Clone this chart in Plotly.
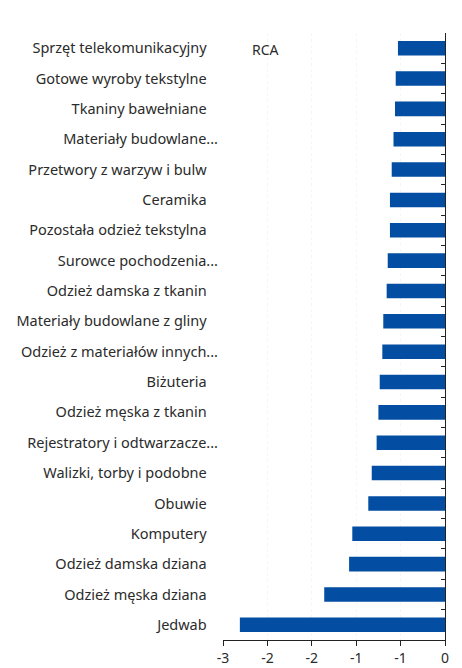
import plotly.graph_objects as go

categories = [
    "Sprzęt telekomunikacyjny", "Gotowe wyroby tekstylne", "Tkaniny bawełniane",
    "Materiały budowlane...", "Przetwory z warzyw i bulw", "Ceramika",
    "Pozostała odzież tekstylna", "Surowce pochodzenia...", "Odzież damska z tkanin",
    "Materiały budowlane z gliny", "Odzież z materiałów innych...", "Biżuteria",
    "Odzież męska z tkanin", "Rejestratory i odtwarzacze...", "Walizki, torby i podobne",
    "Obuwie", "Komputery", "Odzież damska dziana", "Odzież męska dziana", "Jedwab",
]
values = [-0.53, -0.555, -0.563, -0.58, -0.60, -0.62, -0.62, -0.645, -0.657, -0.695,
          -0.706, -0.735, -0.75, -0.77, -0.825, -0.864, -1.044, -1.08, -1.36, -2.31]
tick_vals = [-2.5, -2.0, -1.5, -1.0, -0.5, 0.0]
tick_text = ["-3", "-2", "-2", "-1", "-1", "0"]

font_family = "Noto Sans"
text_color = "#2b2b2b"
n = len(categories)
yrange = [n - 0.5, -0.5]
# truncated labels (ending with "...") run slightly further right in the original
y_ticktext = [c if c.endswith("...") else c + "\u00a0\u00a0\u00a0" for c in categories]

fig = go.Figure()
fig.add_trace(go.Bar(
    x=values, y=categories, orientation="h",
    marker=dict(color="#034ea2", line=dict(width=0)),
    width=0.48, hoverinfo="x+y",
))
fig.add_trace(go.Scatter(
    x=[0] * n, y=categories, yaxis="y2", mode="markers",
    marker=dict(opacity=0, size=1), hoverinfo="skip", showlegend=False,
))

fig.update_layout(
    width=462, height=668,
    margin=dict(l=223, r=17, t=33, b=28, autoexpand=False),
    plot_bgcolor="white", paper_bgcolor="white",
    showlegend=False,
    font=dict(family=font_family, size=14, color=text_color),
    xaxis=dict(
        range=[-2.5, 0], tickvals=tick_vals, ticktext=tick_text,
        showgrid=True, gridcolor="#f5f5f5", gridwidth=1, griddash="dot",
        zeroline=False, showline=True, linecolor="#222", linewidth=1,
        ticks="outside", ticklen=5, tickcolor="#222", automargin=False,
        tickfont=dict(size=14, color=text_color),
    ),
    yaxis=dict(
        type="category", categoryarray=categories, categoryorder="array",
        tickmode="array", tickvals=categories, ticktext=y_ticktext,
        range=yrange, showgrid=False, zeroline=False, showline=False,
        ticks="", ticklabelstandoff=4, automargin=False,
        tickfont=dict(size=14.5, color=text_color),
    ),
    yaxis2=dict(
        type="category", categoryarray=categories, categoryorder="array",
        overlaying="y", side="right", anchor="x", range=yrange,
        showline=True, linecolor="#222", linewidth=1, automargin=False,
        ticks="inside", ticklen=4, tickcolor="#222", tickson="boundaries",
        showticklabels=False, showgrid=False, zeroline=False,
    ),
    annotations=[dict(
        text="RCA", xref="paper", yref="paper", x=0.12, y=0.972,
        xanchor="left", yanchor="middle", showarrow=False,
        font=dict(size=14, color=text_color, family=font_family),
    )],
)

fig.write_html(
    "out.html",
    config={"displayModeBar": False},
    post_script="document.documentElement.style.margin='0';"
                "document.body.style.margin='0';"
                "document.body.style.overflow='hidden';",
)
